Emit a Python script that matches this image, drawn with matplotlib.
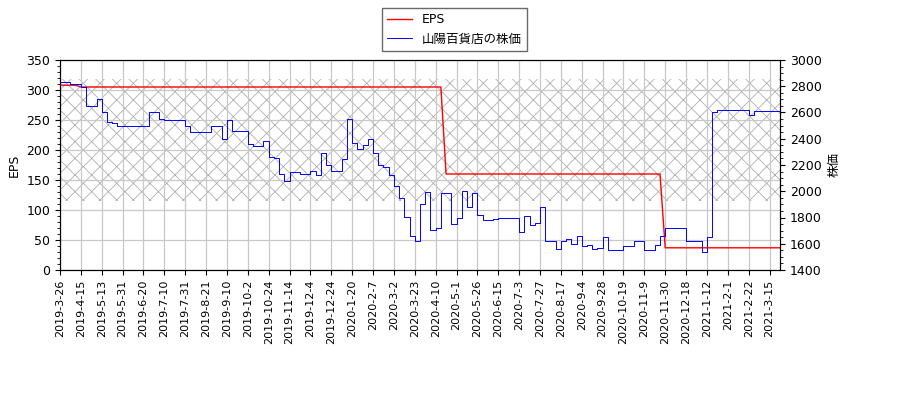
import matplotlib
matplotlib.use("Agg")
import matplotlib.pyplot as plt

plt.rcParams['font.family'] = ['DejaVu Sans', 'Noto Sans CJK JP']
plt.rcParams['font.size'] = 9
plt.rcParams['hatch.linewidth'] = 0.6

tick_labels = ["2019-3-26","2019-4-15","2019-5-13","2019-5-31","2019-6-20","2019-7-10","2019-7-31",
               "2019-8-21","2019-9-10","2019-10-2","2019-10-24","2019-11-14","2019-12-4","2019-12-24",
               "2020-1-20","2020-2-7","2020-3-2","2020-3-23","2020-4-10","2020-5-1","2020-5-26",
               "2020-6-15","2020-7-3","2020-7-27","2020-8-17","2020-9-4","2020-9-28","2020-10-19",
               "2020-11-9","2020-11-30","2020-12-18","2021-1-12","2021-2-1","2021-2-22","2021-3-15"]

price_early_eps = [313,313,310,310, 305,273,273,285, 263,247,245,240, 240,240,240,240,
                   240,263,263,252, 250,250,250,250, 240,230,230,230, 230,240,240,218,
                   250,232,232,232, 210,207,207,215, 188,186,160,148, 163,163,160,160,
                   165,158,195,175, 165,165,185,252, 212,202,208,218, 195,175,172,158,
                   140,120,88,56, 48,110,130,67]
price_late = [1720,1990,1990,1750, 1800,2000,1880,1990, 1820,1780,1780,1790, 1800,1800,1800,1800,
              1690,1810,1740,1760, 1880,1620,1620,1560, 1620,1640,1600,1660, 1580,1590,1560,1570,
              1650,1550,1550,1550, 1580,1580,1620,1620, 1550,1550,1590,1660, 1720,1720,1720,1720,
              1620,1620,1620,1540, 1650,2600,2620,2620, 2620,2620,2620,2620, 2580,2610,2610,2610,
              2615,2615,2615]
price = [1400 + e * 1600 / 350 for e in price_early_eps] + price_late

eps = [308]*4 + [305]*70 + [160]*42 + [37]*(len(price) - 116)

x = list(range(len(price)))

fig = plt.figure(figsize=(9, 4), dpi=100)
ax = fig.add_axes([60/900, 130/400, 720/900, 210/400])
ax2 = ax.twinx()

ax.axhspan(115, 318, facecolor='none', edgecolor='#b0b0b0', hatch='xx', linewidth=0, zorder=0)
ax.grid(True, color='#c8c8c8', linewidth=0.9, zorder=1)
ax.set_axisbelow(True)

l1, = ax.plot(x, eps, color='red', linewidth=1.0, label='EPS', zorder=3)
l2, = ax2.plot(x, price, color='blue', linewidth=0.7, drawstyle='steps-post', label='山陽百貨店の株価')

ax.set_xlim(0, 138)
ax.set_ylim(0, 350)
ax2.set_ylim(1400, 3000)
ax2.set_yticks(range(1400, 3001, 200))
ax.set_xticks([i*4 for i in range(len(tick_labels))])
ax.set_xticklabels(tick_labels, rotation=90, fontsize=8)
ax.set_yticks(range(0, 351, 50))
ax.set_ylabel('EPS')
ax2.set_ylabel('株価')
ax.minorticks_on()
ax.tick_params(axis='x', which='minor', bottom=False)
ax2.minorticks_on()

fig.legend([l1, l2], ['EPS', '山陽百貨店の株価'], loc='upper center',
           bbox_to_anchor=(0.505, 0.995), fancybox=False, edgecolor='#444444')

fig.savefig('out.png')
